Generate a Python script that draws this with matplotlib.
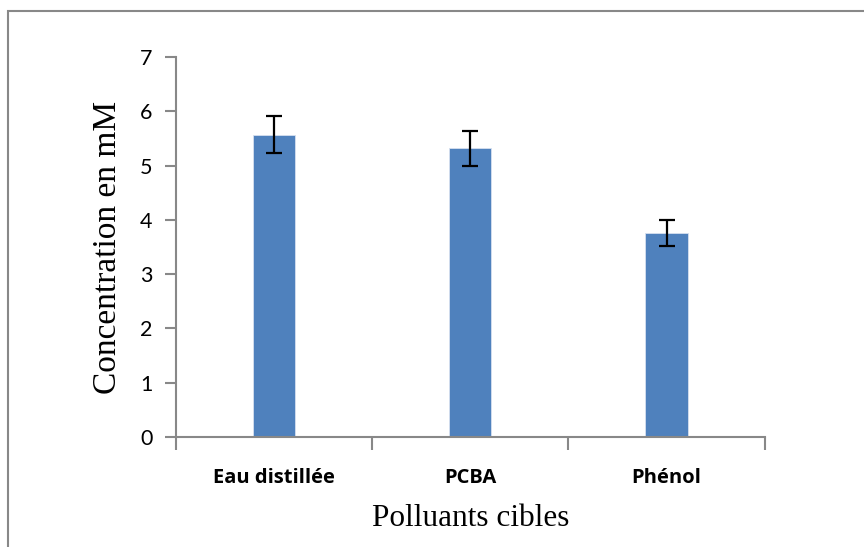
import matplotlib
matplotlib.use('agg')
import matplotlib.pyplot as plt
from matplotlib.patches import Rectangle
import numpy as np

# Données
categories = ['Eau distillée', 'PCBA', 'Phénol']
concentrations = [5.57, 5.32, 3.76]
erreurs = [0.34, 0.32, 0.235]
yticks = [0, 1, 2, 3, 4, 5, 6, 7]

gris = '#888888'

fig = plt.figure(figsize=(8.64, 5.47), dpi=100)
ax = fig.add_axes([0.2037, 0.201, 0.885 - 0.2037, 0.896 - 0.201])

x = np.arange(len(categories))
ax.bar(x, concentrations, width=0.215, color='#4f81bd', edgecolor='#d6e0ef', linewidth=0.6,
       yerr=erreurs, error_kw=dict(ecolor='black', elinewidth=1.6, capsize=6, capthick=1.6))

ax.set_xlim(-0.5, len(categories) - 0.5)
ax.set_ylim(0, 7)
ax.set_yticks(yticks)
ax.set_yticklabels([str(v) for v in yticks], fontfamily='Lato', fontsize=15.5)

# Ticks x entre les catégories
ax.set_xticks(np.arange(len(categories) + 1) - 0.5)
ax.set_xticklabels([])
ax.set_xticks(x, minor=True)
ax.set_xticklabels(categories, minor=True, fontfamily='Open Sans', fontweight='bold', fontsize=14.5)
ax.tick_params(axis='x', which='minor', length=0, pad=22)
ax.tick_params(axis='x', which='major', length=9, width=1.5, color=gris)
ax.tick_params(axis='y', length=8, width=1.5, color=gris, pad=9)

for s in ['top', 'right']:
    ax.spines[s].set_visible(False)
for s in ['left', 'bottom']:
    ax.spines[s].set_color(gris)
    ax.spines[s].set_linewidth(1.5)

ax.set_ylabel('Concentration en mM', fontfamily='Liberation Serif', fontsize=24, labelpad=12)
ax.set_xlabel('Polluants cibles', fontfamily='Liberation Serif', fontsize=22.5, labelpad=12)

# Cadre extérieur (coupé à droite et en bas)
cadre = Rectangle((8 / 864, -0.2), 1.2, 1 - 10.5 / 547 + 0.2, transform=fig.transFigure,
                  fill=False, edgecolor=gris, linewidth=1.5)
fig.patches.append(cadre)

fig.savefig('out.png', dpi=100)
